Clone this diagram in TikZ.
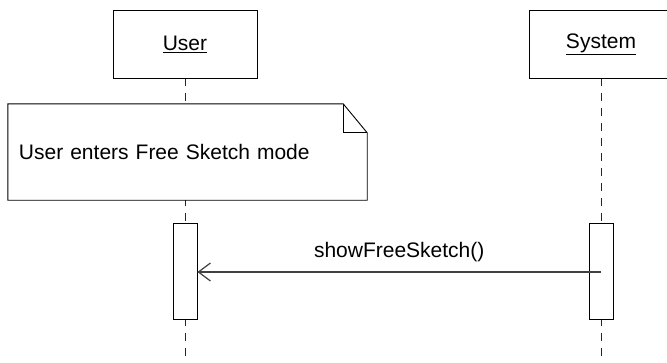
\documentclass[tikz,border=0pt]{standalone}
\usepackage{fontspec}
\setmainfont{Liberation Sans}
\usepackage{tikz}
\usetikzlibrary{arrows.meta,positioning,backgrounds}
\tikzset{
  sqobj/.style={
    rectangle, draw=black, fill=white, line width=0.9pt,
    minimum width=144pt, minimum height=68pt, inner sep=0pt,
    font=\fontsize{21}{25}\selectfont
  },
  sqnote/.style={
    rectangle, fill=white, minimum width=359pt, minimum height=96pt,
    inner xsep=11pt, inner ysep=0pt, text width=337pt, align=left,
    font=\fontsize{21}{25}\selectfont
  },
  sqact/.style={
    rectangle, draw=black, fill=white, line width=0.9pt,
    minimum width=24pt, minimum height=96pt, inner sep=0pt
  },
  sqline/.style={draw=black!85, line width=0.9pt, dash pattern=on 8pt off 7pt},
  sqmsg/.style={-{Straight Barb[length=12pt,width=18pt]}, line width=1.2pt, draw=black!75},
  sqlabel/.style={font=\fontsize{21}{25}\selectfont, inner sep=0pt},
}
\begin{document}
\begin{tikzpicture}[x=1pt, y=-1pt]
  \useasboundingbox (0,0) rectangle (667,362);
  \node (user) [sqobj] at (185,44) {\underline{User}};
  \node (system) [sqobj] at (601,44) {\underline{System}};
  \coordinate (userend) at (185,362);
  \coordinate (sysend) at (601,362);
  \begin{scope}[on background layer]
    \draw[sqline] (user.south) -- (userend);
    \draw[sqline] (system.south) -- (sysend);
  \end{scope}
  % note
  \node (note) [sqnote] at (187.5,152) {User enters Free Sketch mode};
  \draw[line width=0.9pt] (note.north west) -- ([xshift=-24pt]note.north east)
    -- ([yshift=-29pt]note.north east) -- (note.south east) -- (note.south west) -- cycle;
  \draw[line width=0.9pt] ([xshift=-24pt]note.north east) |- ([yshift=-29pt]note.north east);
  % activations
  \node (useract) [sqact] at (185,271) {};
  \node (sysact) [sqact] at (601,271) {};
  \draw[sqmsg] ([yshift=-1pt]sysact.center) -- node[sqlabel, above=10pt] {showFreeSketch()} ([yshift=-1pt]useract.east);
\end{tikzpicture}
\end{document}
